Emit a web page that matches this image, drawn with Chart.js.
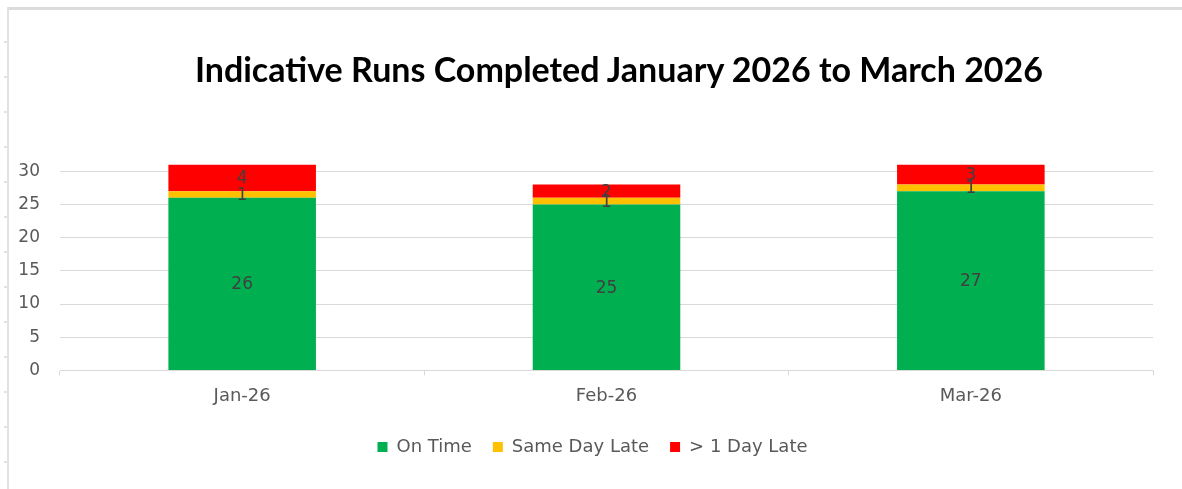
<!DOCTYPE html>
<html>
<head>
<meta charset="utf-8">
<script src="https://cdn.jsdelivr.net/npm/chart.js@4/dist/chart.umd.min.js"></script>
<style>
  html, body { margin: 0; padding: 0; background: #fff; }
  #wrap { position: relative; width: 1182px; height: 489px; overflow: hidden; }
  #frameTop { position: absolute; left: 7px; top: 7px; width: 1175px; height: 3px; background: #dcdcdc; }
  #frameLeft { position: absolute; left: 7px; top: 7px; width: 2px; height: 482px; background: #e2e2e2; }
  #frameTicks { position: absolute; left: 4px; top: 8px; width: 3px; height: 481px;
    background: repeating-linear-gradient(to bottom, transparent 0, transparent 33px, #e2e2e2 33px, #e2e2e2 35px); }
  #title { position: absolute; left: 119px; width: 1000px; top: 48px; height: 42px; line-height: 42px;
    text-align: center; font-family: Lato, "Open Sans", sans-serif; font-weight: bold; font-size: 34px; color: #000; white-space: nowrap; }
  canvas { position: absolute; left: 0; top: 0; }
</style>
</head>
<body>
<div id="wrap">
  <div id="frameTop"></div>
  <div id="frameLeft"></div>
  <div id="frameTicks"></div>
  <canvas id="c" width="1182" height="489"></canvas>
  <div id="title"></div>
</div>
<script>
const categories = ["Jan-26", "Feb-26", "Mar-26"];
const onTime = [26, 25, 27];
const sameDayLate = [1, 1, 1];
const overOneDayLate = [4, 2, 3];
const seriesNames = ["On Time", "Same Day Late", "> 1 Day Late"];
const chartTitle = "Indicative Runs Completed January 2026 to March 2026";
const yTickStep = 5;

document.getElementById('title').textContent = chartTitle;

const labelPlugin = {
  id: 'barLabels',
  afterLayout(chart) {
    if (chart.legend) chart.legend.left += 32;
  },
  afterDatasetsDraw(chart) {
    const ctx = chart.ctx;
    ctx.save();
    ctx.font = '17px "DejaVu Sans", sans-serif';
    ctx.fillStyle = '#404040';
    ctx.textAlign = 'center';
    ctx.textBaseline = 'middle';
    chart.data.datasets.forEach((ds, i) => {
      const meta = chart.getDatasetMeta(i);
      meta.data.forEach((el, j) => {
        const p = el.getCenterPoint();
        ctx.fillText(String(ds.data[j]), p.x, p.y + 1);
      });
    });
    ctx.restore();
  }
};

new Chart(document.getElementById('c'), {
  type: 'bar',
  data: {
    labels: categories,
    datasets: [
      { label: seriesNames[0], data: onTime, backgroundColor: '#00B050' },
      { label: seriesNames[1], data: sameDayLate, backgroundColor: '#FFC000' },
      { label: seriesNames[2], data: overOneDayLate, backgroundColor: '#FF0000' }
    ]
  },
  options: {
    responsive: false,
    animation: false,
    devicePixelRatio: 1,
    layout: { padding: { left: 0, right: 29, top: 158, bottom: 23 } },
    datasets: { bar: { categoryPercentage: 1.0, barPercentage: 0.405 } },
    scales: {
      x: {
        stacked: true,
        offset: true,
        grid: { display: true, drawOnChartArea: false, drawTicks: true, tickLength: 5, color: '#d9d9d9', offset: true },
        border: { display: true, color: '#d9d9d9', width: 1 },
        ticks: { color: '#595959', font: { family: '"DejaVu Sans", sans-serif', size: 18 }, padding: 10 }
      },
      y: {
        stacked: true,
        min: 0,
        max: 32,
        afterBuildTicks(axis) {
          const t = [];
          for (let v = 0; v <= axis.max; v += yTickStep) t.push({ value: v });
          axis.ticks = t;
        },
        afterFit(axis) { axis.width = 60; },
        ticks: { stepSize: yTickStep, color: '#595959', font: { family: '"DejaVu Sans", sans-serif', size: 17 }, padding: 20 },
        grid: { color: '#d9d9d9', drawTicks: false },
        border: { display: false }
      }
    },
    plugins: {
      title: { display: false },
      legend: {
        position: 'bottom',
        labels: {
          boxWidth: 10, boxHeight: 10, color: '#595959', padding: 21,
          font: { family: '"DejaVu Sans", sans-serif', size: 18 }
        }
      },
      tooltip: { enabled: false }
    }
  },
  plugins: [labelPlugin]
});
</script>
</body>
</html>
